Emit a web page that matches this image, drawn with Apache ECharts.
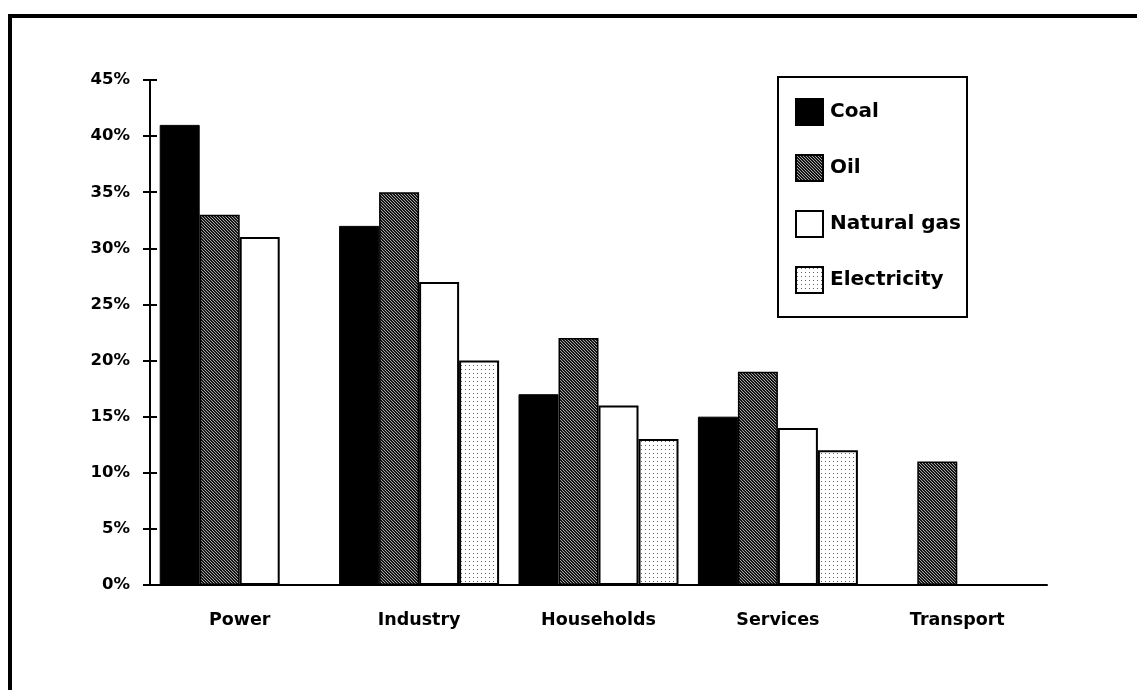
<!DOCTYPE html>
<html>
<head>
<meta charset="utf-8">
<script src="https://cdn.jsdelivr.net/npm/echarts@6/dist/echarts.min.js"></script>
<style>
html,body{margin:0;padding:0;background:#fff;}
#chart{width:1137px;height:690px;}
</style>
</head>
<body>
<div id="chart"></div>
<script>
var categories = ['Power', 'Industry', 'Households', 'Services', 'Transport'];
var seriesNames = ['Coal', 'Oil', 'Natural gas', 'Electricity'];
var coal = [41, 32, 17, 15, '-'];
var oil = [33, 35, 22, 19, 11];
var naturalGas = [31, 27, 16, 14, '-'];
var electricity = ['-', 20, 13, 12, '-'];
var yTicks = [0, 5, 10, 15, 20, 25, 30, 35, 40, 45];

function makeHatch() {
  var c = document.createElement('canvas');
  c.width = 3; c.height = 3;
  var ctx = c.getContext('2d');
  ctx.fillStyle = '#151515';
  ctx.fillRect(0, 0, 3, 3);
  ctx.fillStyle = '#a8a8a8';
  for (var i = 0; i < 3; i++) ctx.fillRect(i, i, 1, 1);
  return c;
}
function makeDots() {
  var c = document.createElement('canvas');
  c.width = 4; c.height = 4;
  var ctx = c.getContext('2d');
  ctx.fillStyle = '#ffffff';
  ctx.fillRect(0, 0, 4, 4);
  ctx.fillStyle = '#666666';
  ctx.fillRect(1, 1, 1, 1);
  return c;
}
var hatch = { image: makeHatch(), repeat: 'repeat' };
var dots = { image: makeDots(), repeat: 'repeat' };

var font = '"DejaVu Sans", Verdana, sans-serif';
var chart = echarts.init(document.getElementById('chart'), null, { renderer: 'canvas' });

function bar(name, data, color, bw) {
  return {
    name: name, type: 'bar', data: data, barWidth: 40, barGap: '0%',
    itemStyle: { color: color, borderColor: '#000', borderWidth: bw },
    emphasis: { disabled: true }
  };
}

chart.setOption({
  animation: false,
  backgroundColor: '#fff',
  textStyle: { fontFamily: font },
  graphic: [{
    type: 'polyline',
    shape: { points: [[10, 690], [10, 16], [1137, 16]] },
    style: { stroke: '#000', lineWidth: 4, fill: null }
  }, {
    type: 'rect',
    shape: { x: 778, y: 77, width: 189, height: 240 },
    style: { stroke: '#000', lineWidth: 2, fill: null },
    z: 10
  }],
  legend: {
    orient: 'vertical',
    left: 795, top: 98,
    padding: 0,
    icon: 'rect',
    itemWidth: 27, itemHeight: 26, itemGap: 28,
    data: seriesNames,
    textStyle: { fontFamily: font, fontSize: 20, fontWeight: 'bold', color: '#000', padding: [0, 0, 0, 2] },
    selectedMode: false
  },
  grid: { left: 150, right: 90, top: 80, bottom: 105 },
  xAxis: {
    type: 'category', data: categories,
    axisLine: { lineStyle: { color: '#000', width: 2 } },
    axisTick: { show: false },
    axisLabel: { color: '#000', fontSize: 17.5, fontWeight: 'bold', margin: 26, fontFamily: font }
  },
  yAxis: [{
    type: 'value', min: 0, max: 45, interval: 5,
    axisLine: { show: true, lineStyle: { color: '#000', width: 2 } },
    axisTick: { show: true, length: 7, lineStyle: { color: '#000', width: 2 } },
    splitLine: { show: false },
    axisLabel: {
      color: '#000', fontSize: 16.5, fontWeight: 'bold', margin: 20, fontFamily: font,
      formatter: function (v) { return yTicks.indexOf(v) >= 0 ? v + '%' : ''; }
    }
  }, {
    type: 'value', min: 0, max: 45, interval: 5, position: 'left', offset: 0,
    axisLine: { show: false },
    axisTick: { show: true, inside: true, length: 7, lineStyle: { color: '#000', width: 2 } },
    splitLine: { show: false },
    axisLabel: { show: false }
  }],
  series: [
    bar('Coal', coal, '#000', 1),
    bar('Oil', oil, hatch, 1.5),
    bar('Natural gas', naturalGas, '#fff', 2),
    bar('Electricity', electricity, dots, 2)
  ]
});
</script>
</body>
</html>
